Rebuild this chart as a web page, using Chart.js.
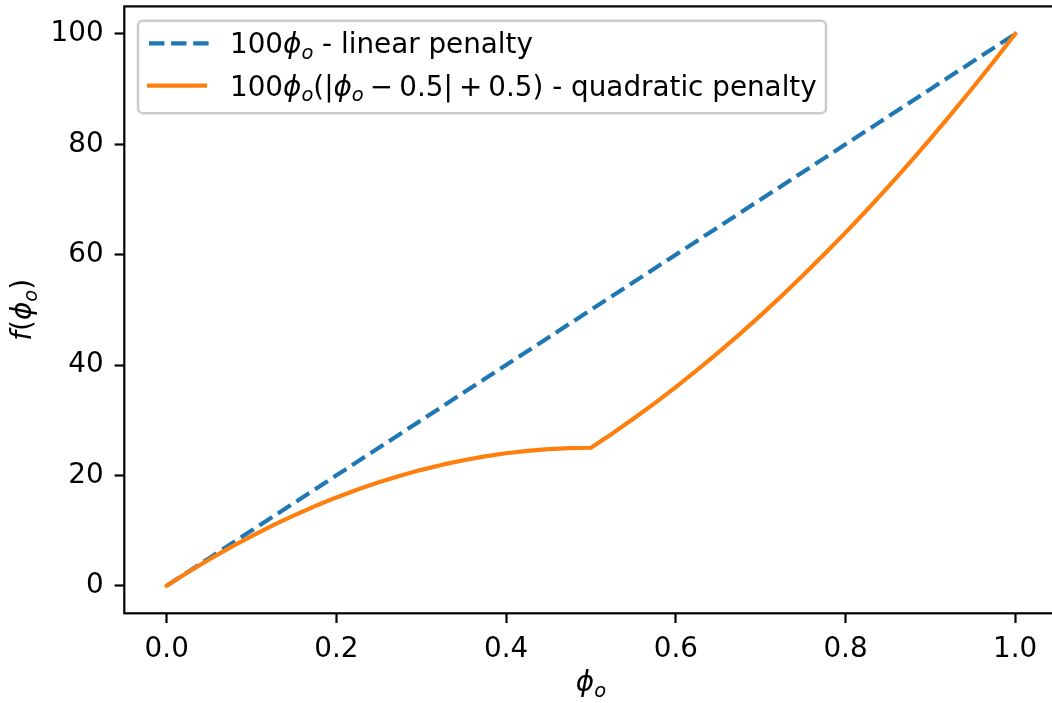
<!DOCTYPE html>
<html>
<head>
<meta charset="utf-8">
<script src="https://cdn.jsdelivr.net/npm/chart.js@4/dist/chart.umd.min.js"></script>
<style>
  html, body { margin: 0; padding: 0; overflow: hidden; background: #ffffff; }
  #wrap { width: 1058px; height: 703px; }
</style>
</head>
<body>
<div id="wrap"><canvas id="c" width="1058" height="703"></canvas></div>
<script>
// phi_o samples and the two penalty curves
const phi = [0.000, 0.025, 0.050, 0.075, 0.100, 0.125, 0.150, 0.175, 0.200, 0.225,
             0.250, 0.275, 0.300, 0.325, 0.350, 0.375, 0.400, 0.425, 0.450, 0.475,
             0.500, 0.525, 0.550, 0.575, 0.600, 0.625, 0.650, 0.675, 0.700, 0.725,
             0.750, 0.775, 0.800, 0.825, 0.850, 0.875, 0.900, 0.925, 0.950, 0.975, 1.000];
const linearPenalty = [0, 2.5, 5, 7.5, 10, 12.5, 15, 17.5, 20, 22.5,
                       25, 27.5, 30, 32.5, 35, 37.5, 40, 42.5, 45, 47.5,
                       50, 52.5, 55, 57.5, 60, 62.5, 65, 67.5, 70, 72.5,
                       75, 77.5, 80, 82.5, 85, 87.5, 90, 92.5, 95, 97.5, 100];
const quadraticPenalty = [0, 2.44, 4.75, 6.94, 9, 10.94, 12.75, 14.44, 16, 17.44,
                          18.75, 19.94, 21, 21.94, 22.75, 23.44, 24, 24.44, 24.75, 24.94,
                          25, 27.56, 30.25, 33.06, 36, 39.06, 42.25, 45.56, 49, 52.56,
                          56.25, 60.06, 64, 68.06, 72.25, 76.56, 81, 85.56, 90.25, 95.06, 100];

const xTicks = [0.0, 0.2, 0.4, 0.6, 0.8, 1.0];
const yTicks = [0, 20, 40, 60, 80, 100];

const BLUE = '#1f77b4';
const ORANGE = '#ff7f0e';
const FS = 27.8;
const LW = 4.17;
const FAMILY = '"DejaVu Sans"';

// rich text: segments with optional italic / subscript / trailing gap (em)
const legendRows = [
  { color: BLUE, dash: [15.4, 6.7], segs: [
    { t: '100' }, { t: 'ϕ', it: 1 }, { t: 'o', it: 1, sub: 1 }, { t: ' - linear penalty' }
  ]},
  { color: ORANGE, dash: [], segs: [
    { t: '100' }, { t: 'ϕ', it: 1 }, { t: 'o', it: 1, sub: 1 }, { t: '(|' },
    { t: 'ϕ', it: 1 }, { t: 'o', it: 1, sub: 1, g: 0.22 }, { t: '−', g: 0.22 },
    { t: '0.5|', g: 0.22 }, { t: '+', g: 0.22 }, { t: '0.5)' }, { t: ' - quadratic penalty' }
  ]}
];
const xTitle = [{ t: 'ϕ', it: 1 }, { t: 'o', it: 1, sub: 1 }];
const yTitle = [{ t: 'f', it: 1 }, { t: '(' }, { t: 'ϕ', it: 1 }, { t: 'o', it: 1, sub: 1 }, { t: ')' }];

function segFont(s, size) {
  return (s.it ? 'italic ' : '') + (s.sub ? size * 0.7 : size) + 'px ' + FAMILY;
}
function richWidth(ctx, segs, size) {
  let w = 0;
  for (const s of segs) {
    ctx.font = segFont(s, size);
    w += ctx.measureText(s.t).width + (s.g || 0) * size;
  }
  return w;
}
function drawRich(ctx, segs, x, y, size) {
  let cx = x;
  ctx.textBaseline = 'alphabetic';
  ctx.textAlign = 'left';
  for (const s of segs) {
    ctx.font = segFont(s, size);
    ctx.fillText(s.t, cx, y + (s.sub ? size * 0.2 : 0));
    cx += ctx.measureText(s.t).width + (s.g || 0) * size;
  }
}

const decorations = {
  id: 'decorations',
  afterDraw(chart) {
    const ctx = chart.ctx;
    const a = chart.chartArea;
    ctx.save();
    // axes frame
    ctx.strokeStyle = '#000';
    ctx.lineWidth = 2.2;
    ctx.strokeRect(a.left, a.top, a.right - a.left, a.bottom - a.top);

    ctx.fillStyle = '#000';
    // x title
    const xw = richWidth(ctx, xTitle, FS);
    drawRich(ctx, xTitle, (a.left + a.right) / 2 - xw / 2, 691, FS);
    // y title (rotated)
    const yw = richWidth(ctx, yTitle, FS);
    ctx.save();
    ctx.translate(31, (a.top + a.bottom) / 2 + yw / 2);
    ctx.rotate(-Math.PI / 2);
    drawRich(ctx, yTitle, 0, 0, FS);
    ctx.restore();

    // legend
    const bx = 138, by = 20.7, bw = 688, bh = 92.5;
    ctx.beginPath();
    ctx.roundRect(bx, by, bw, bh, 5);
    ctx.fillStyle = 'rgba(255,255,255,0.8)';
    ctx.fill();
    ctx.strokeStyle = '#cccccc';
    ctx.lineWidth = 2.5;
    ctx.stroke();

    legendRows.forEach((row, i) => {
      const ly = 43.3 + i * 42.4;
      ctx.beginPath();
      ctx.setLineDash(row.dash);
      ctx.lineCap = row.dash.length ? 'butt' : 'square';
      ctx.strokeStyle = row.color;
      ctx.lineWidth = LW;
      ctx.moveTo(149, ly);
      ctx.lineTo(row.dash.length ? 209 : 205, ly);
      ctx.stroke();
      ctx.setLineDash([]);
      ctx.fillStyle = '#000';
      drawRich(ctx, row.segs, 230, ly + 10, FS);
    });
    ctx.restore();
  }
};

const tickFont = { family: 'DejaVu Sans', size: FS };

new Chart(document.getElementById('c'), {
  type: 'line',
  data: {
    datasets: [
      {
        label: 'linear',
        data: phi.map((x, i) => ({ x, y: linearPenalty[i] })),
        borderColor: BLUE,
        borderWidth: LW,
        borderDash: [15.4, 6.7],
        borderCapStyle: 'butt',
        borderJoinStyle: 'round',
        pointRadius: 0,
        fill: false,
        tension: 0,
        order: 1
      },
      {
        label: 'quadratic',
        data: phi.map((x, i) => ({ x, y: quadraticPenalty[i] })),
        borderColor: ORANGE,
        borderWidth: LW,
        borderCapStyle: 'square',
        borderJoinStyle: 'round',
        pointRadius: 0,
        fill: false,
        tension: 0,
        order: 0
      }
    ]
  },
  options: {
    responsive: false,
    animation: false,
    devicePixelRatio: 1,
    layout: { padding: { left: 0, top: 6.4, right: 0.4, bottom: 0 } },
    plugins: { legend: { display: false }, tooltip: { enabled: false } },
    scales: {
      x: {
        type: 'linear',
        min: -0.05,
        max: 1.05,
        afterBuildTicks: s => { s.ticks = xTicks.map(v => ({ value: v })); },
        afterFit: s => { s.height = 703 - 613.3; s.paddingLeft = 0; s.paddingRight = 0; },
        grid: { display: true, drawOnChartArea: false, drawTicks: true, tickLength: 9.7, tickWidth: 2.2, tickColor: '#000' },
        border: { display: false },
        ticks: { font: tickFont, color: '#000', padding: 10, maxRotation: 0, autoSkip: false,
                 callback: v => Number(v).toFixed(1) }
      },
      y: {
        type: 'linear',
        min: -5,
        max: 105,
        afterBuildTicks: s => { s.ticks = yTicks.map(v => ({ value: v })); },
        afterFit: s => { s.width = 124.3; s.paddingTop = 0; s.paddingBottom = 0; },
        grid: { display: true, drawOnChartArea: false, drawTicks: true, tickLength: 9.7, tickWidth: 2.2, tickColor: '#000' },
        border: { display: false },
        ticks: { font: tickFont, color: '#000', padding: 11, autoSkip: false,
                 callback: v => String(v) }
      }
    }
  },
  plugins: [decorations]
});
</script>
</body>
</html>
